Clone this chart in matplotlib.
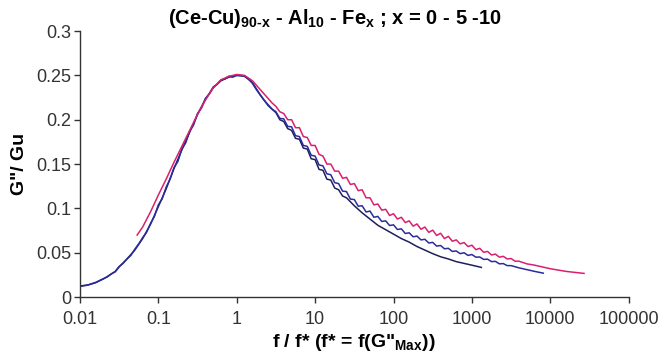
import numpy as np
import matplotlib
matplotlib.use("Agg")
import matplotlib.pyplot as plt
from matplotlib.ticker import FixedLocator, FixedFormatter, NullLocator

plt.rcParams['font.family'] = ['Liberation Sans', 'DejaVu Sans']
plt.rcParams['mathtext.fontset'] = 'custom'
plt.rcParams['mathtext.rm'] = 'Liberation Sans:bold'
plt.rcParams['mathtext.it'] = 'Liberation Sans:bold'
plt.rcParams['mathtext.bf'] = 'Liberation Sans:bold'

# x values are given as log10(f / f*), y as G''/Gu
# x = 10 (magenta)
mag_logf = [-1.27, -1.2, -1.1, -1.0, -0.9, -0.8, -0.7, -0.6, -0.5, -0.4, -0.3, -0.2, -0.1,
            0.0, 0.1, 0.2, 0.3, 0.4, 0.45,
            0.50, 0.55, 0.60, 0.65, 0.70, 0.75, 0.80, 0.85, 0.90, 0.95,
            1.00, 1.05, 1.10, 1.15, 1.20, 1.25, 1.30, 1.35, 1.40, 1.45,
            1.50, 1.55, 1.60, 1.65, 1.70, 1.75, 1.80, 1.85, 1.90, 1.95,
            2.00, 2.05, 2.10, 2.15, 2.20, 2.25, 2.30, 2.35, 2.40, 2.45,
            2.50, 2.55, 2.60, 2.65, 2.70, 2.75, 2.80, 2.85, 2.90, 2.95,
            3.00, 3.05, 3.10, 3.15, 3.20, 3.25, 3.30, 3.35, 3.40, 3.45,
            3.50, 3.55, 3.60, 3.7, 3.8, 3.9, 4.0, 4.1, 4.2, 4.3, 4.43]
mag_g = [0.070, 0.079, 0.096, 0.115, 0.133, 0.152, 0.170, 0.188, 0.206, 0.222, 0.236, 0.245, 0.249,
         0.251, 0.250, 0.244, 0.234, 0.224, 0.219,
         0.215, 0.209, 0.207, 0.200, 0.200, 0.191, 0.191, 0.181, 0.180, 0.171,
         0.171, 0.161, 0.159, 0.150, 0.150, 0.142, 0.142, 0.134, 0.135, 0.127,
         0.128, 0.120, 0.121, 0.112, 0.112, 0.104, 0.105, 0.098, 0.099, 0.092,
         0.094, 0.088, 0.090, 0.084, 0.086, 0.080, 0.0825, 0.0765, 0.079, 0.073,
         0.0755, 0.0695, 0.072, 0.066, 0.0685, 0.063, 0.0645, 0.060, 0.0615, 0.057,
         0.0585, 0.0535, 0.055, 0.0505, 0.0515, 0.0475, 0.0485, 0.045, 0.046, 0.043,
         0.0435, 0.0405, 0.0405, 0.0375, 0.036, 0.034, 0.032, 0.0305, 0.029, 0.028, 0.0267]

# x = 5 (blue)
blu_logf = [-2.0, -1.9, -1.8, -1.7, -1.6, -1.55, -1.5, -1.45, -1.4, -1.35, -1.3, -1.25, -1.2, -1.15,
            -1.1, -1.05, -1.0, -0.95, -0.9, -0.85, -0.8, -0.75, -0.7, -0.65, -0.6, -0.55,
            -0.5, -0.45, -0.4, -0.35, -0.3, -0.25, -0.2, -0.15, -0.1, -0.05,
            0.0, 0.05, 0.1, 0.15, 0.2, 0.25, 0.3, 0.35, 0.4, 0.45,
            0.50, 0.55, 0.60, 0.65, 0.70, 0.75, 0.80, 0.85, 0.90, 0.95,
            1.00, 1.05, 1.10, 1.15, 1.20, 1.25, 1.30, 1.35, 1.40, 1.45,
            1.50, 1.55, 1.60, 1.65, 1.70, 1.75, 1.80, 1.85, 1.90, 1.95,
            2.00, 2.05, 2.10, 2.15, 2.20, 2.25, 2.30, 2.35, 2.40, 2.45,
            2.50, 2.55, 2.60, 2.65, 2.70, 2.75, 2.80, 2.85, 2.90, 2.95,
            3.00, 3.05, 3.10, 3.15, 3.20, 3.25, 3.30, 3.35, 3.40, 3.45,
            3.50, 3.6, 3.7, 3.8, 3.91]
blu_g = [0.012, 0.0135, 0.0162, 0.0205, 0.026, 0.029, 0.0345, 0.038, 0.043, 0.047, 0.054, 0.060, 0.067, 0.073,
         0.083, 0.091, 0.104, 0.111, 0.124, 0.133, 0.146, 0.153, 0.167, 0.174, 0.187, 0.194,
         0.207, 0.213, 0.224, 0.229, 0.237, 0.240, 0.245, 0.246, 0.249, 0.248,
         0.250, 0.250, 0.249, 0.246, 0.241, 0.234, 0.228, 0.222, 0.217, 0.212,
         0.209, 0.2015, 0.201, 0.1925, 0.192, 0.182, 0.181, 0.171, 0.170, 0.160,
         0.159, 0.149, 0.148, 0.139, 0.138, 0.129, 0.128, 0.1195, 0.119, 0.1105,
         0.110, 0.1025, 0.103, 0.096, 0.097, 0.090, 0.091, 0.0853, 0.086, 0.0807,
         0.0815, 0.0762, 0.077, 0.0717, 0.0725, 0.0680, 0.0688, 0.0645, 0.0652, 0.0610,
         0.0617, 0.0575, 0.0582, 0.0545, 0.055, 0.0515, 0.052, 0.049, 0.050, 0.047,
         0.048, 0.0450, 0.0452, 0.0425, 0.0428, 0.0400, 0.0403, 0.0375, 0.0378, 0.0355,
         0.0355, 0.033, 0.031, 0.029, 0.027]

# x = 0 (dark navy)
nav_logf = [-2.0, -1.9, -1.8, -1.7, -1.65, -1.6, -1.55, -1.5, -1.4, -1.3, -1.2, -1.1, -1.0,
            -0.9, -0.8, -0.7, -0.6, -0.5, -0.4, -0.3, -0.2, -0.1,
            0.0, 0.1, 0.2, 0.3, 0.4, 0.5, 0.55, 0.6, 0.65, 0.7, 0.75, 0.8, 0.85, 0.9, 0.95,
            1.0, 1.05, 1.1, 1.15, 1.2, 1.25, 1.3, 1.35, 1.4, 1.5, 1.6, 1.7, 1.8, 1.9,
            2.0, 2.1, 2.2, 2.3, 2.4, 2.5, 2.6, 2.7, 2.8, 2.9, 3.0, 3.12]
nav_g = [0.0125, 0.0137, 0.0165, 0.0208, 0.0228, 0.0262, 0.0285, 0.034, 0.043, 0.053, 0.066, 0.082, 0.102,
         0.122, 0.145, 0.166, 0.186, 0.206, 0.223, 0.236, 0.244, 0.248,
         0.250, 0.249, 0.242, 0.228, 0.216, 0.208, 0.200, 0.198, 0.190, 0.188, 0.179, 0.178, 0.168, 0.167, 0.156,
         0.155, 0.144, 0.143, 0.133, 0.132, 0.123, 0.121, 0.114, 0.112, 0.103, 0.095, 0.088, 0.081, 0.076,
         0.071, 0.066, 0.062, 0.057, 0.053, 0.049, 0.0455, 0.043, 0.040, 0.038, 0.036, 0.0335]

tick_vals = [0.01, 0.1, 1, 10, 100, 1000, 10000, 100000]
tick_labels = ['0.01', '0.1', '1', '10', '100', '1000', '10000', '100000']
y_ticks = [0, 0.05, 0.1, 0.15, 0.2, 0.25, 0.3]
y_labels = ['0', '0.05', '0.1', '0.15', '0.2', '0.25', '0.3']

fig = plt.figure(figsize=(6.66, 3.61), dpi=100)
ax = fig.add_axes([0.120, 0.177, 0.824, 0.737])

ax.plot(np.power(10.0, nav_logf), nav_g, color='#1f1f5c', lw=1.1)
ax.plot(np.power(10.0, blu_logf), blu_g, color='#2b2b9c', lw=1.1)
ax.plot(np.power(10.0, mag_logf), mag_g, color='#d8206e', lw=1.1)

ax.set_xscale('log')
ax.set_xlim(0.01, 100000)
ax.set_ylim(0, 0.3)
ax.xaxis.set_major_locator(FixedLocator(tick_vals))
ax.xaxis.set_major_formatter(FixedFormatter(tick_labels))
ax.xaxis.set_minor_locator(NullLocator())
ax.set_yticks(y_ticks)
ax.set_yticklabels(y_labels)

for s in ['top', 'right']:
    ax.spines[s].set_visible(False)
for s in ['left', 'bottom']:
    ax.spines[s].set_color('#333333')
    ax.spines[s].set_linewidth(1.0)
ax.tick_params(direction='out', length=4, width=1.0, color='#333333',
               labelsize=13, labelcolor='#333333')
ax.tick_params(axis='y', pad=2)
ax.tick_params(axis='x', pad=6)

ax.set_xlabel('f / f* (f* = f(G"$_{Max}$))', fontsize=14, fontweight='bold', labelpad=3)
ax.set_ylabel('G"/ Gu', fontsize=14, fontweight='bold', labelpad=6)
fig.text(0.503, 0.950, '(Ce-Cu)$_{90\u2010x}$ - Al$_{10}$ - Fe$_{x}$ ; x = 0 - 5 -10',
         ha='center', va='center', fontsize=14.5, fontweight='bold')

fig.savefig('out.png', dpi=100)
